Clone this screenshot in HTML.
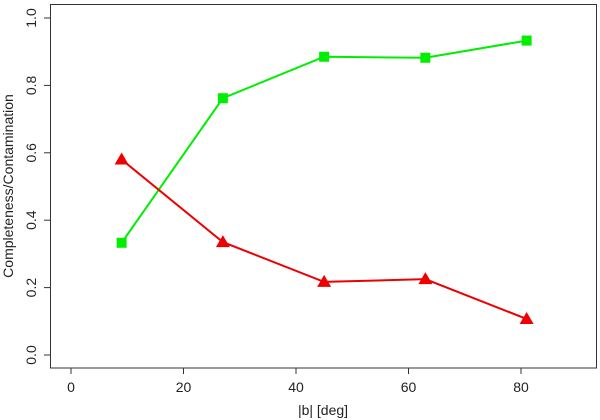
<!DOCTYPE html>
<html><head><style>body{margin:0;background:#fff}svg{display:block;font-family:"Liberation Sans",sans-serif}</style></head>
<body>
<svg id="c" width="600" height="420"></svg>
<script>
const xs=[9,27,45,63,81];
const completeness=[0.333,0.762,0.885,0.882,0.933];
const contamination=[0.58,0.335,0.217,0.225,0.107];
const xTicks=[0,20,40,60,80];
const yTicks=[0,0.2,0.4,0.6,0.8,1.0];
const X=v=>71+v*5.625, Y=v=>355-v*337;
const s=document.getElementById('c'),NS='http://www.w3.org/2000/svg';
function el(t,a,txt){const e=document.createElementNS(NS,t);for(const k in a)e.setAttribute(k,a[k]);if(txt!=null)e.textContent=txt;s.appendChild(e);return e;}
let e=el('rect',{x:50.5,y:4.5,width:546,height:363.5,fill:'none',stroke:'#333'});


xTicks.forEach(t=>{
 let l=el('line',{x1:X(t),x2:X(t),y1:368,y2:374,stroke:'#333'});
 
 
 let tx=el('text',{x:X(t),y:392,'text-anchor':'middle','font-size':14,fill:'#222'},t);
 
 
});
yTicks.forEach(t=>{
 let l=el('line',{x1:44,x2:50.5,y1:Y(t),y2:Y(t),stroke:'#333'});
 
 
 let tx=el('text',{x:0,y:0,transform:`translate(36,${Y(t)}) rotate(-90)`,'text-anchor':'middle','font-size':14,fill:'#222'},t.toFixed(1));
 
 
});
e=el('text',{x:323,y:415,'text-anchor':'middle','font-size':14,fill:'#222'},'|b| [deg]');


e=el('text',{x:0,y:0,transform:'translate(13,186) rotate(-90)','text-anchor':'middle','font-size':14,fill:'#222'},'Completeness/Contamination');


function series(vals,col,shape,name){
 let p=el('polyline',{points:xs.map((x,i)=>X(x)+','+Y(vals[i])).join(' '),fill:'none',stroke:col,'stroke-width':2});
 
 
 xs.forEach((x,i)=>{
  const cx=X(x),cy=Y(vals[i]);let m;
  if(shape==='sq') m=el('rect',{x:cx-5,y:cy-5,width:10,height:10,fill:col});
  else m=el('polygon',{points:`${cx},${cy-7} ${cx-7},${cy+5} ${cx+7},${cy+5}`,fill:col});
  
  
 });
}
series(completeness,'#00ee00','sq','completeness');
series(contamination,'#ee0000','tri','contamination');
</script>
</body></html>
